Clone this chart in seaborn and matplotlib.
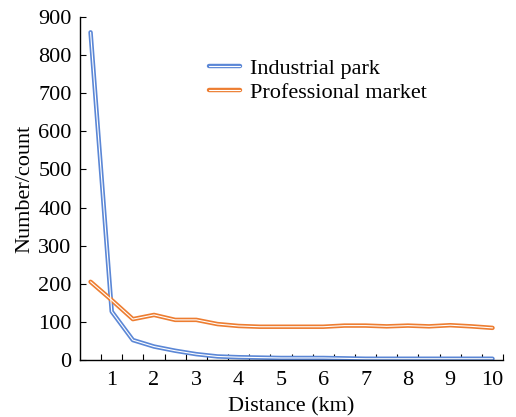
import numpy as np
import pandas as pd
import seaborn as sns
import matplotlib.pyplot as plt
from matplotlib.lines import Line2D
from matplotlib.ticker import MultipleLocator, FixedLocator

# Data (distance categories every 0.5 km)
distance = [0.5, 1.0, 1.5, 2.0, 2.5, 3.0, 3.5, 4.0, 4.5, 5.0,
            5.5, 6.0, 6.5, 7.0, 7.5, 8.0, 8.5, 9.0, 9.5, 10.0]
industrial = [860, 127, 52, 35, 24, 15, 9, 7, 6, 5,
              5, 5, 4, 3, 3, 3, 3, 3, 3, 3]
professional = [205, 157, 107, 118, 105, 105, 94, 89, 87, 87,
                87, 87, 90, 90, 88, 90, 88, 91, 88, 84]
series_names = ['Industrial park', 'Professional market']
colors = ['#5B87D6', '#ED7D31']

df = pd.DataFrame({
    'Distance': distance * 2,
    'Count': industrial + professional,
    'Series': [series_names[0]] * len(distance) + [series_names[1]] * len(distance),
})

sns.set_style("ticks")
plt.rcParams['font.family'] = ['Liberation Serif', 'DejaVu Serif']
plt.rcParams.update({'text.color': 'black', 'axes.labelcolor': 'black',
                     'xtick.color': 'black', 'ytick.color': 'black'})

fig = plt.figure(figsize=(5.16, 4.17), dpi=100)
ax = fig.add_axes([0.155, 0.137, 0.82, 0.822])

palette = dict(zip(series_names, colors))
# outer coloured stroke
sns.lineplot(data=df, x='Distance', y='Count', hue='Series', palette=palette,
             linewidth=3.2, ax=ax, legend=False)
# white core to get the double-line look
sns.lineplot(data=df, x='Distance', y='Count', hue='Series',
             palette={s: 'white' for s in series_names},
             linewidth=0.8, ax=ax, legend=False)

ax.set_xlim(0.25, 10.25)
ax.set_ylim(0, 900)
ax.xaxis.set_major_locator(FixedLocator(range(1, 11)))
ax.xaxis.set_minor_locator(FixedLocator(np.arange(0.75, 10.3, 0.5)))
ax.yaxis.set_major_locator(MultipleLocator(100))
ax.tick_params(axis='x', which='major', length=0, labelsize=16, pad=8)
ax.tick_params(axis='x', which='minor', length=4, direction='in', width=0.8, color='black')
ax.tick_params(axis='y', which='major', length=4.5, direction='in', width=0.8, labelsize=16, pad=6)

for side in ['top', 'right']:
    ax.spines[side].set_visible(False)
for side in ['left', 'bottom']:
    ax.spines[side].set_color('black')
    ax.spines[side].set_linewidth(1.0)

ax.set_xlabel('Distance (km)', fontsize=16, labelpad=5)
ax.set_ylabel('Number/count', fontsize=16, labelpad=3)

handles = [(Line2D([], [], color=c, linewidth=3.2), Line2D([], [], color='white', linewidth=0.8))
           for c in colors]
ax.legend(handles, series_names, loc='upper left', bbox_to_anchor=(0.305, 0.88),
          frameon=False, fontsize=16, handlelength=1.4, handletextpad=0.45,
          labelspacing=0.15, borderaxespad=0, borderpad=0)

fig.savefig('out.png', dpi=100)
